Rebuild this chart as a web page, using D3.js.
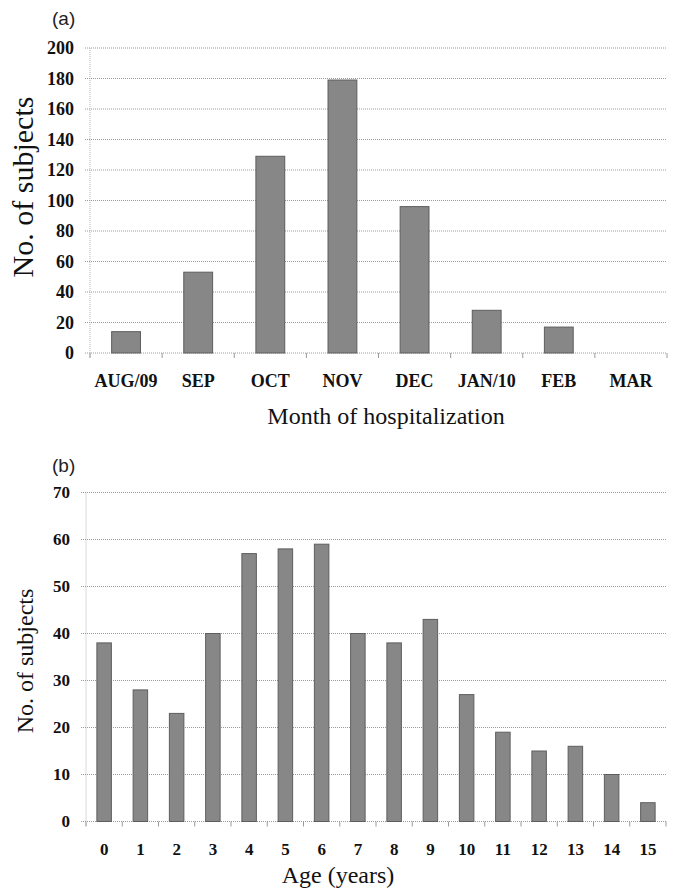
<!DOCTYPE html>
<html>
<head>
<meta charset="utf-8">
<script src="https://cdn.jsdelivr.net/npm/d3@7"></script>
<style>
  body { margin: 0; background: #fff; }
  svg { display: block; }
</style>
</head>
<body>
<div id="chart"></div>
<script>
// panel (a)
const months = ["AUG/09", "SEP", "OCT", "NOV", "DEC", "JAN/10", "FEB", "MAR"];
const monthCounts = [14, 53, 129, 179, 96, 28, 17, 0];
const monthTicks = [0, 20, 40, 60, 80, 100, 120, 140, 160, 180, 200];

// panel (b)
const ages = ["0", "1", "2", "3", "4", "5", "6", "7", "8", "9", "10", "11", "12", "13", "14", "15"];
const ageCounts = [38, 28, 23, 40, 57, 58, 59, 40, 38, 43, 27, 19, 15, 16, 10, 4];
const ageTicks = [0, 10, 20, 30, 40, 50, 60, 70];

const svg = d3.select("#chart")
    .append("svg")
    .attr("width", 675)
    .attr("height", 892);

const serif = "'Liberation Serif', 'Times New Roman', serif";
const sans = "'Liberation Sans', Arial, sans-serif";

function panel(opt) {
    const g = svg.append("g");

    const x = d3.scaleBand()
        .domain(opt.cats)
        .range([opt.left, opt.right])
        .paddingInner(0.6)
        .paddingOuter(0.3);

    const y = d3.scaleLinear()
        .domain([0, opt.max])
        .range([opt.bottom, opt.top]);

    // gridlines
    g.append("g")
        .selectAll("line")
        .data(opt.ticks)
        .join("line")
        .attr("x1", opt.left - 5)
        .attr("x2", opt.right)
        .attr("y1", d => y(d))
        .attr("y2", d => y(d))
        .style("stroke", "#9a9a9a")
        .style("stroke-width", 1)
        .style("stroke-dasharray", "1,1");

    // left axis line
    g.append("line")
        .attr("x1", opt.left).attr("x2", opt.left)
        .attr("y1", y(opt.max)).attr("y2", opt.bottom + 5)
        .style("stroke", "#b5b5b5")
        .style("stroke-dasharray", "1,1");

    // tick marks between categories
    const step = x.step();
    g.append("g")
        .selectAll("line")
        .data(d3.range(opt.cats.length + 1))
        .join("line")
        .attr("x1", i => opt.left + i * step)
        .attr("x2", i => opt.left + i * step)
        .attr("y1", opt.bottom)
        .attr("y2", opt.bottom + 5)
        .style("stroke", "#9a9a9a");

    // bars
    g.append("g")
        .selectAll("rect")
        .data(opt.values)
        .join("rect")
        .attr("x", (d, i) => x(opt.cats[i]))
        .attr("y", d => y(d))
        .attr("width", x.bandwidth())
        .attr("height", d => opt.bottom - y(d))
        .style("fill", "#878787")
        .style("stroke", d => d > 0 ? "#5e5e5e" : "none")
        .style("stroke-width", 1);

    // y tick labels
    g.append("g")
        .selectAll("text")
        .data(opt.ticks)
        .join("text")
        .attr("x", opt.labelRight)
        .attr("y", d => y(d))
        .attr("dy", "0.35em")
        .attr("text-anchor", "end")
        .style("font-family", serif)
        .style("font-weight", "bold")
        .style("font-size", opt.tickSize + "px")
        .style("fill", "#111")
        .text(d => d);

    // x tick labels
    g.append("g")
        .selectAll("text")
        .data(opt.cats)
        .join("text")
        .attr("x", d => x(d) + x.bandwidth() / 2)
        .attr("y", opt.xLabelY)
        .attr("text-anchor", "middle")
        .style("font-family", serif)
        .style("font-weight", "bold")
        .style("font-size", opt.tickSize + "px")
        .style("fill", "#111")
        .text(d => d);

    // x title
    g.append("text")
        .attr("x", opt.xTitleX)
        .attr("y", opt.xTitleY)
        .attr("text-anchor", "middle")
        .style("font-family", serif)
        .style("font-size", "24px")
        .style("fill", "#111")
        .text(opt.xTitle);

    // y title
    g.append("text")
        .attr("transform", `translate(${opt.yTitleX}, ${opt.yTitleY}) rotate(-90)`)
        .attr("text-anchor", "middle")
        .style("font-family", serif)
        .style("font-size", opt.yTitleSize + "px")
        .style("fill", "#111")
        .text("No. of subjects");

    // panel letter
    g.append("text")
        .attr("x", 52)
        .attr("y", opt.letterY)
        .style("font-family", sans)
        .style("font-size", "19px")
        .style("fill", "#222")
        .text(opt.letter);
}

panel({
    cats: months, values: monthCounts, ticks: monthTicks, max: 200,
    left: 90, right: 667, top: 48, bottom: 353,
    labelRight: 74, tickSize: 18, xLabelY: 387,
    xTitle: "Month of hospitalization", xTitleX: 386, xTitleY: 424,
    yTitleX: 33, yTitleY: 187, yTitleSize: 30,
    letter: "(a)", letterY: 25
});

panel({
    cats: ages, values: ageCounts, ticks: ageTicks, max: 70,
    left: 86, right: 666, top: 492.5, bottom: 821.5,
    labelRight: 70, tickSize: 17, xLabelY: 855,
    xTitle: "Age (years)", xTitleX: 338, xTitleY: 883,
    yTitleX: 33, yTitleY: 661, yTitleSize: 24,
    letter: "(b)", letterY: 472
});
</script>
</body>
</html>
